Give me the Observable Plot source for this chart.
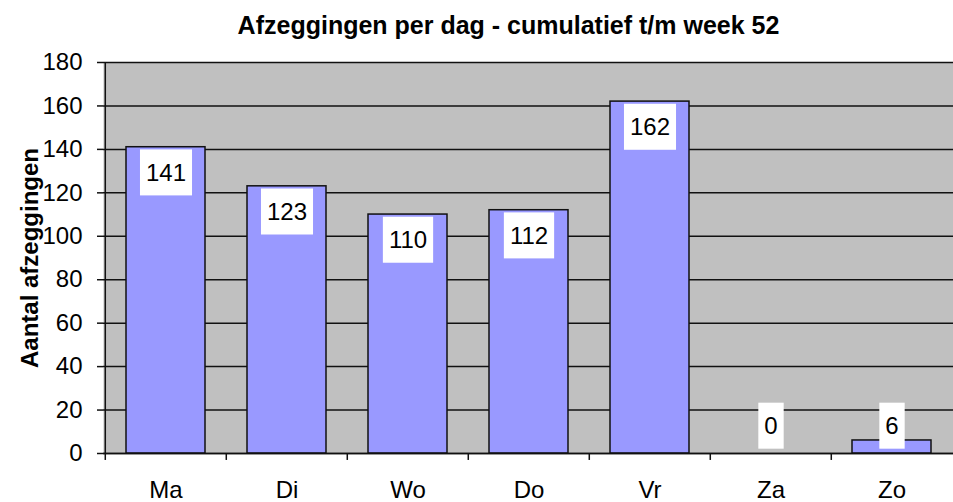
<!DOCTYPE html>
<html><head><meta charset="utf-8">
<script src="https://cdn.jsdelivr.net/npm/d3@7"></script>
<script src="https://cdn.jsdelivr.net/npm/@observablehq/plot@0.6"></script>
<style>body{margin:0;background:#fff;} svg{display:block}</style>
</head><body><div id="chart"></div>
<script>
const days = ["Ma","Di","Wo","Do","Vr","Za","Zo"];
const counts = [141,123,110,112,162,0,6];
const yTicks = [0,20,40,60,80,100,120,140,160,180];
const title = "Afzeggingen per dag - cumulatief t/m week 52";
const yLabel = "Aantal afzeggingen";

const data = days.map((d,i)=>({day:d, value:counts[i]}));
const W=953,H=502,ML=103,MR=0,MT=62,MB=49;
const step=(W-ML-MR)/days.length;
const font = "'Liberation Sans', Arial, sans-serif";
const ink = "#111";

const chart = Plot.plot({
  width:W, height:H, marginLeft:ML, marginRight:MR, marginTop:MT, marginBottom:MB,
  style:{fontFamily:font, fontSize:"24px", background:"white", color:"black", overflow:"visible"},
  x:{domain:days, paddingInner:0.35, paddingOuter:0.175, label:null},
  y:{domain:[0,180], ticks:yTicks, label:null},
  marks:[
    Plot.frame({fill:"#c0c0c0"}),
    Plot.gridY(yTicks,{stroke:ink, strokeOpacity:1, strokeWidth:1.5}),
    Plot.barY(data.filter(d=>d.value>0),{x:"day", y:"value", fill:"#9999ff", stroke:ink, strokeWidth:1.5}),
    Plot.ruleY([0],{stroke:ink, strokeWidth:1.5}),
    Plot.ruleX(days.slice(0,1),{x:d=>d, dx:-step/2, y1:0, y2:180, stroke:ink, strokeWidth:1.5}),
    Plot.ruleX(days,{x:d=>d, dx:-step/2, y1:0, y2:-3.2, stroke:ink, strokeWidth:1.5}),
    Plot.axisY(yTicks,{tickSize:6, tickPadding:15, fontSize:24, stroke:ink, strokeWidth:1.5}),
    Plot.axisX({tickSize:0, tickPadding:27, fontSize:24}),
    Plot.text(data.filter(d=>d.value>=20),{x:"day", y:"value", text:d=>String(d.value), dy:26, fontSize:24, ariaDescription:"vlabel"}),
    Plot.text(data.filter(d=>d.value<20),{x:"day", y:()=>0, text:d=>String(d.value), dy:-27, fontSize:24, ariaDescription:"vlabel"}),
    Plot.text([yLabel],{frameAnchor:"left", dx:-73, rotate:-90, textAnchor:"middle", lineAnchor:"middle", fontWeight:"bold", fontSize:24}),
    Plot.text([title],{frameAnchor:"top", dy:-37, dx:-20, textAnchor:"middle", lineAnchor:"middle", fontWeight:"bold", fontSize:25})
  ]
});
document.getElementById("chart").appendChild(chart);

// white boxes behind value labels
chart.querySelectorAll('g[aria-description="vlabel"] text').forEach(t=>{
  const bb = t.getBBox();
  const cy = bb.y + bb.height/2;
  const r = document.createElementNS("http://www.w3.org/2000/svg","rect");
  r.setAttribute("x", bb.x-6);
  r.setAttribute("width", bb.width+12);
  r.setAttribute("y", cy-23);
  r.setAttribute("height", 46);
  r.setAttribute("fill", "white");
  const tr = t.getAttribute("transform");
  if (tr) r.setAttribute("transform", tr);
  t.parentNode.insertBefore(r, t);
});
</script>
</body></html>
